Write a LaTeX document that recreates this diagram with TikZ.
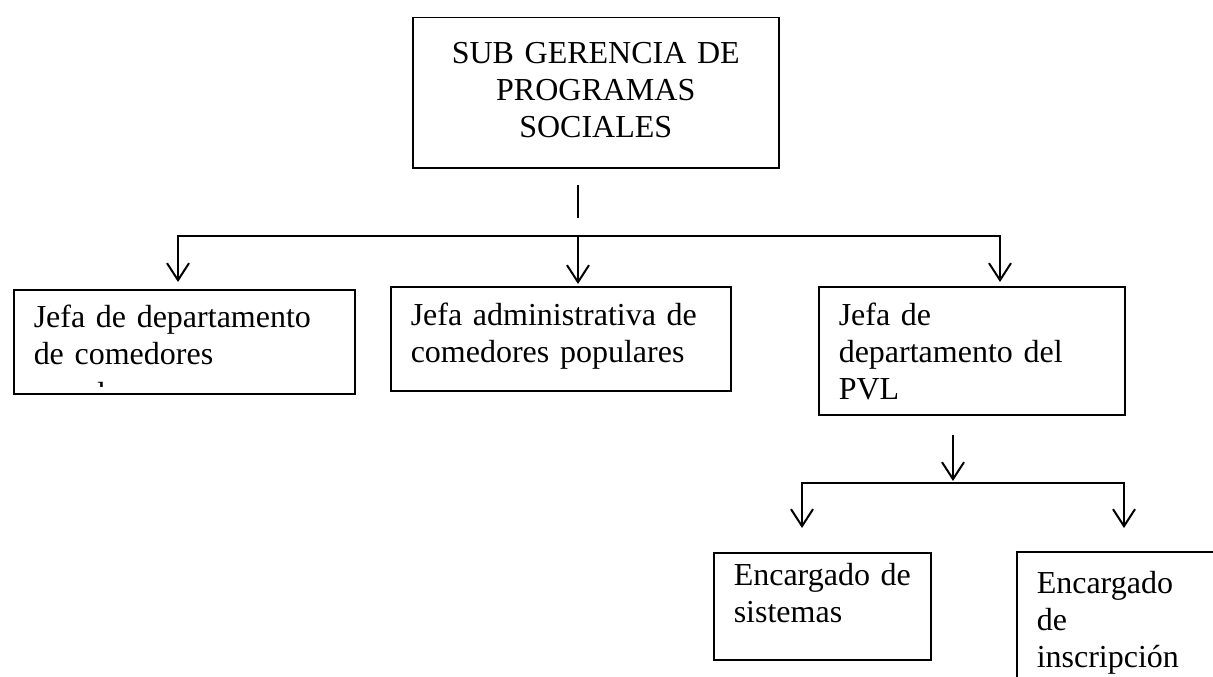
\documentclass[tikz,border=0pt]{standalone}
\usepackage{fontspec}
\setmainfont{Liberation Serif}
\usepackage{tikz}
\usetikzlibrary{arrows.meta}

\tikzset{
  orgbox/.style={
    rectangle, draw=black, line width=1.5pt,
    inner xsep=20pt, inner ysep=0pt,
    anchor=north west, align=left,
    font=\fontsize{32}{37}\selectfont
  },
  cuttxt/.style={inner sep=0pt, anchor=base west, font=\fontsize{32}{37}\selectfont},
  link/.style={draw=black, line width=2pt},
  arr/.style={-{Straight Barb[length=17pt,width=22pt]}, draw=black, line width=2pt}
}

\begin{document}
\begin{tikzpicture}[x=1pt, y=-1pt]
  \useasboundingbox (0,0) rectangle (1213,677);
  \clip (0,0) rectangle (1213,677);

  % ── Top level ──
  \node[orgbox, align=center, text width=326pt, text height=46pt, text depth=104pt]
        (sgps) at (412,17) {SUB GERENCIA DE\\PROGRAMAS\\SOCIALES};

  % ── Second level ──
  \node[orgbox, text width=301pt, text height=38pt, text depth=66pt]
        (jdcp) at (13,289) {Jefa de departamento\\de comedores};
  \begin{scope}
    \clip (13,289) rectangle (354,386);
    \node[cuttxt] (jdcpcut) at (33,404) {populares};
  \end{scope}
  \node[orgbox, text width=300pt, text height=39pt, text depth=65pt]
        (jacp) at (390,286) {Jefa administrativa de\\comedores populares};
  \node[orgbox, text width=266pt, text height=39pt, text depth=89pt]
        (jpvl) at (818,286) {Jefa de\\departamento del\\PVL};

  % ── Third level ──
  \node[orgbox, text width=177pt, text height=33pt, text depth=74pt]
        (esis) at (713,552) {Encargado~de\\sistemas};
  \node[orgbox, text width=160pt, text height=42pt, text depth=100pt]
        (eins) at (1016,551) {Encargado\\de\\inscripción};

  % ── Connectors ──
  \coordinate (stubA) at (578,185);
  \coordinate (stubB) at (578,218);
  \coordinate (busA)  at (578,236);
  \coordinate (tipA1) at (178,282);
  \coordinate (tipA2) at (578,284);
  \coordinate (tipA3) at (1000,282);
  \draw[link] (stubA) -- (stubB);
  \draw[arr] (busA) -| (tipA1);
  \draw[arr] (busA) -- (tipA2);
  \draw[arr] (busA) -| (tipA3);

  \coordinate (pvlA)  at (953,435);
  \coordinate (pvlB)  at (953,481);
  \coordinate (busB)  at (953,483);
  \coordinate (tipB1) at (802,528);
  \coordinate (tipB2) at (1124,528);
  \draw[arr] (pvlA) -- (pvlB);
  \draw[arr] (busB) -| (tipB1);
  \draw[arr] (busB) -| (tipB2);
\end{tikzpicture}
\end{document}
